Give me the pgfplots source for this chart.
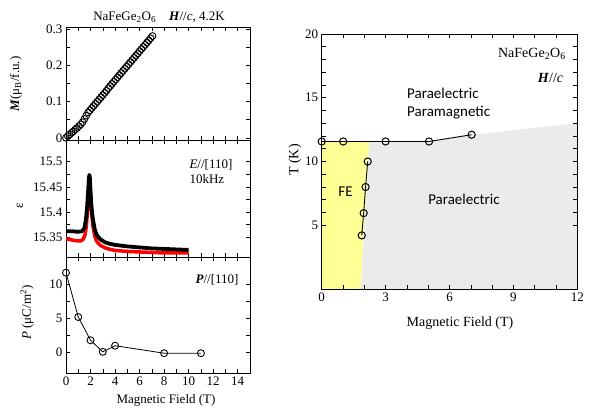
\documentclass[border=0pt]{standalone}
\usepackage{pgfplots}
\pgfplotsset{compat=1.18}
\usepackage{fontspec}
\setmainfont{Liberation Serif}
\newfontfamily\calib{Carlito}
\definecolor{feyellow}{RGB}{255,255,150}
\definecolor{pegray}{RGB}{235,235,235}
\begin{document}
\begin{tikzpicture}
\path[use as bounding box] (0pt,0pt) rectangle (597pt,412pt);
\pgfplotsset{
  every axis/.append style={
    scale only axis, anchor=south west,
    axis line style={line width=0.8pt},
    tick style={black, line width=0.6pt},
    major tick length=4pt, minor tick length=4pt,
    tick align=inside,
    ticklabel style={font=\fontsize{13}{13}\selectfont},
    /pgf/number format/assume math mode=true,
  },
}
% ---------- Panel 1: M ----------
\begin{axis}[at={(66pt,272pt)}, width=184pt, height=113pt,
  xmin=0, xmax=15, ymin=-0.006, ymax=0.306,
  xtick={0,2,...,14}, minor x tick num=1, xticklabels={},
  ytick={0,0.1,0.2,0.3}, minor y tick num=1,
  yticklabel style={/pgf/number format/fixed}]
\addplot[only marks, mark=o, mark size=3.4pt, mark options={fill=white, line width=0.9pt}] coordinates {
(0.00,0.000) (0.15,0.005) (0.30,0.009) (0.45,0.014) (0.60,0.018) (0.75,0.023)
(0.90,0.027) (1.05,0.032) (1.20,0.037) (1.35,0.043) (1.50,0.052) (1.65,0.061)
(1.80,0.070) (1.95,0.076) (2.10,0.082) (2.25,0.088) (2.40,0.094) (2.55,0.100)
(2.70,0.106) (2.85,0.112) (3.00,0.118) (3.15,0.124) (3.30,0.130) (3.45,0.137)
(3.60,0.143) (3.75,0.149) (3.90,0.155) (4.05,0.161) (4.20,0.167) (4.35,0.173)
(4.50,0.179) (4.65,0.185) (4.80,0.191) (4.95,0.197) (5.10,0.203) (5.25,0.209)
(5.40,0.215) (5.55,0.221) (5.70,0.227) (5.85,0.233) (6.00,0.239) (6.15,0.245)
(6.30,0.251) (6.45,0.257) (6.60,0.263) (6.75,0.269) (6.90,0.275) (7.05,0.281)
};
\end{axis}
% ---------- Panel 2: epsilon ----------
\begin{axis}[at={(66pt,155pt)}, width=184pt, height=117pt,
  xmin=0, xmax=15, ymin=15.311, ymax=15.543,
  xtick={0,2,...,14}, minor x tick num=1, xticklabels={},
  ytick={15.35,15.4,15.45,15.5}, minor y tick num=1,
  yticklabel style={/pgf/number format/fixed, /pgf/number format/precision=2}]
\addplot[red, line width=3.5pt, line join=round] coordinates {
(0,15.347) (0.3,15.346) (0.6,15.344) (0.9,15.343) (1.2,15.343) (1.4,15.346)
(1.55,15.355) (1.65,15.37) (1.75,15.40) (1.82,15.43) (1.88,15.455) (1.92,15.462)
(1.97,15.45) (2.03,15.42) (2.1,15.395) (2.2,15.372) (2.35,15.352) (2.5,15.342)
(2.8,15.334) (3.2,15.329) (3.6,15.326) (4.0,15.324) (4.5,15.323) (5,15.322)
(6,15.321) (7,15.320) (8,15.319) (9,15.319) (10,15.319)
};
\addplot[black, line width=3.8pt, line join=round] coordinates {
(0,15.362) (0.5,15.362) (1.0,15.361) (1.3,15.362) (1.5,15.368) (1.62,15.385)
(1.72,15.41) (1.8,15.44) (1.86,15.465) (1.9,15.474) (1.94,15.47) (1.98,15.45)
(2.05,15.42) (2.12,15.40) (2.2,15.385) (2.35,15.365) (2.5,15.355) (2.8,15.346)
(3.2,15.340) (3.6,15.337) (4.0,15.335) (5,15.332) (6,15.330) (7,15.328)
(8,15.327) (9,15.326) (10,15.325)
};
\end{axis}
% ---------- Panel 3: P ----------
\begin{axis}[at={(66pt,39pt)}, width=184pt, height=116pt,
  xmin=0, xmax=15, ymin=-3, ymax=14,
  xtick={0,2,...,14}, minor x tick num=1,
  ytick={0,5,10}, minor y tick num=1]
\addplot[black, line width=0.8pt, mark=o, mark size=3.5pt, mark options={fill=white, line width=0.9pt}] coordinates {
(0,11.7) (1,5.2) (2,1.8) (3,0.1) (4,1.0) (8,-0.1) (11,-0.1)
};
\end{axis}
% ---------- Right panel: phase diagram ----------
\begin{axis}[at={(321.7pt,123pt)}, width=255.6pt, height=255pt,
  xmin=0, xmax=12, ymin=0, ymax=20,
  xtick={0,3,...,12}, minor x tick num=2,
  ytick={5,10,15,20}, minor y tick num=4,
  axis on top]
\addplot[draw=none, fill=feyellow] coordinates {(0,0) (0,11.57) (2.24,11.57) (1.83,0)} -- cycle;
\addplot[draw=none, fill=pegray] coordinates {(1.83,0) (2.24,11.57) (5.04,11.57) (7.04,12.1) (12,13.0) (12,0)} -- cycle;
\addplot[black, line width=0.9pt, mark=o, mark size=3.6pt, mark options={fill=white, line width=1pt}] coordinates {
(0,11.57) (1.01,11.57) (3.0,11.57) (5.04,11.57) (7.04,12.1)
};
\addplot[black, line width=0.9pt, mark=o, mark size=3.6pt, mark options={fill=white, line width=1pt}] coordinates {
(1.88,4.2) (1.97,5.95) (2.06,8.0) (2.16,10.0)
};
\node[font=\calib\fontsize{15}{15}\selectfont] at (axis cs:1.12,7.64) {FE};
\node[font=\calib\fontsize{15}{15}\selectfont] at (axis cs:6.68,7.06) {Paraelectric};
\node[font=\calib\fontsize{15}{18}\selectfont, anchor=west, align=left] at (axis cs:3.85,14.55) {Paraelectric\\Paramagnetic};
\node[font=\fontsize{14}{14}\selectfont, anchor=east] at (axis cs:11.62,18.45) {NaFeGe\textsubscript{2}O\textsubscript{6}};
\node[font=\fontsize{14}{14}\selectfont, anchor=east] at (axis cs:11.5,16.56) {\textbf{\textit{H}}//\textit{c}};
\end{axis}
% ---------- labels ----------
\node[font=\fontsize{13}{13}\selectfont] at (159pt,395pt) {NaFeGe\textsubscript{2}O\textsubscript{6}\quad \textbf{\textit{H}}//\textit{c}, 4.2K};
\node[font=\fontsize{13}{13}\selectfont, rotate=90] at (16pt,328pt) {\textbf{\textit{M}}(μ\textsubscript{B}/f.u.)};
\node[font=\fontsize{13}{13}\selectfont, rotate=90] at (20pt,206pt) {ε};
\node[font=\fontsize{13}{13}\selectfont, rotate=90] at (27pt,99.5pt) {\textit{P} (μC/m\textsuperscript{2})};
\node[font=\fontsize{13}{15}\selectfont, anchor=north west, align=left] at (186pt,256pt) {\textit{E}//[110]\\10kHz};
\node[font=\fontsize{13}{13}\selectfont, anchor=east] at (242pt,132pt) {\textbf{\textit{P}}//[110]};
\node[font=\fontsize{13}{13}\selectfont] at (166pt,12pt) {Magnetic Field (T)};
\node[font=\fontsize{14}{14}\selectfont] at (460pt,89pt) {Magnetic Field (T)};
\node[font=\fontsize{14}{14}\selectfont, rotate=90] at (295pt,252pt) {T (K)};
\end{tikzpicture}
\end{document}
